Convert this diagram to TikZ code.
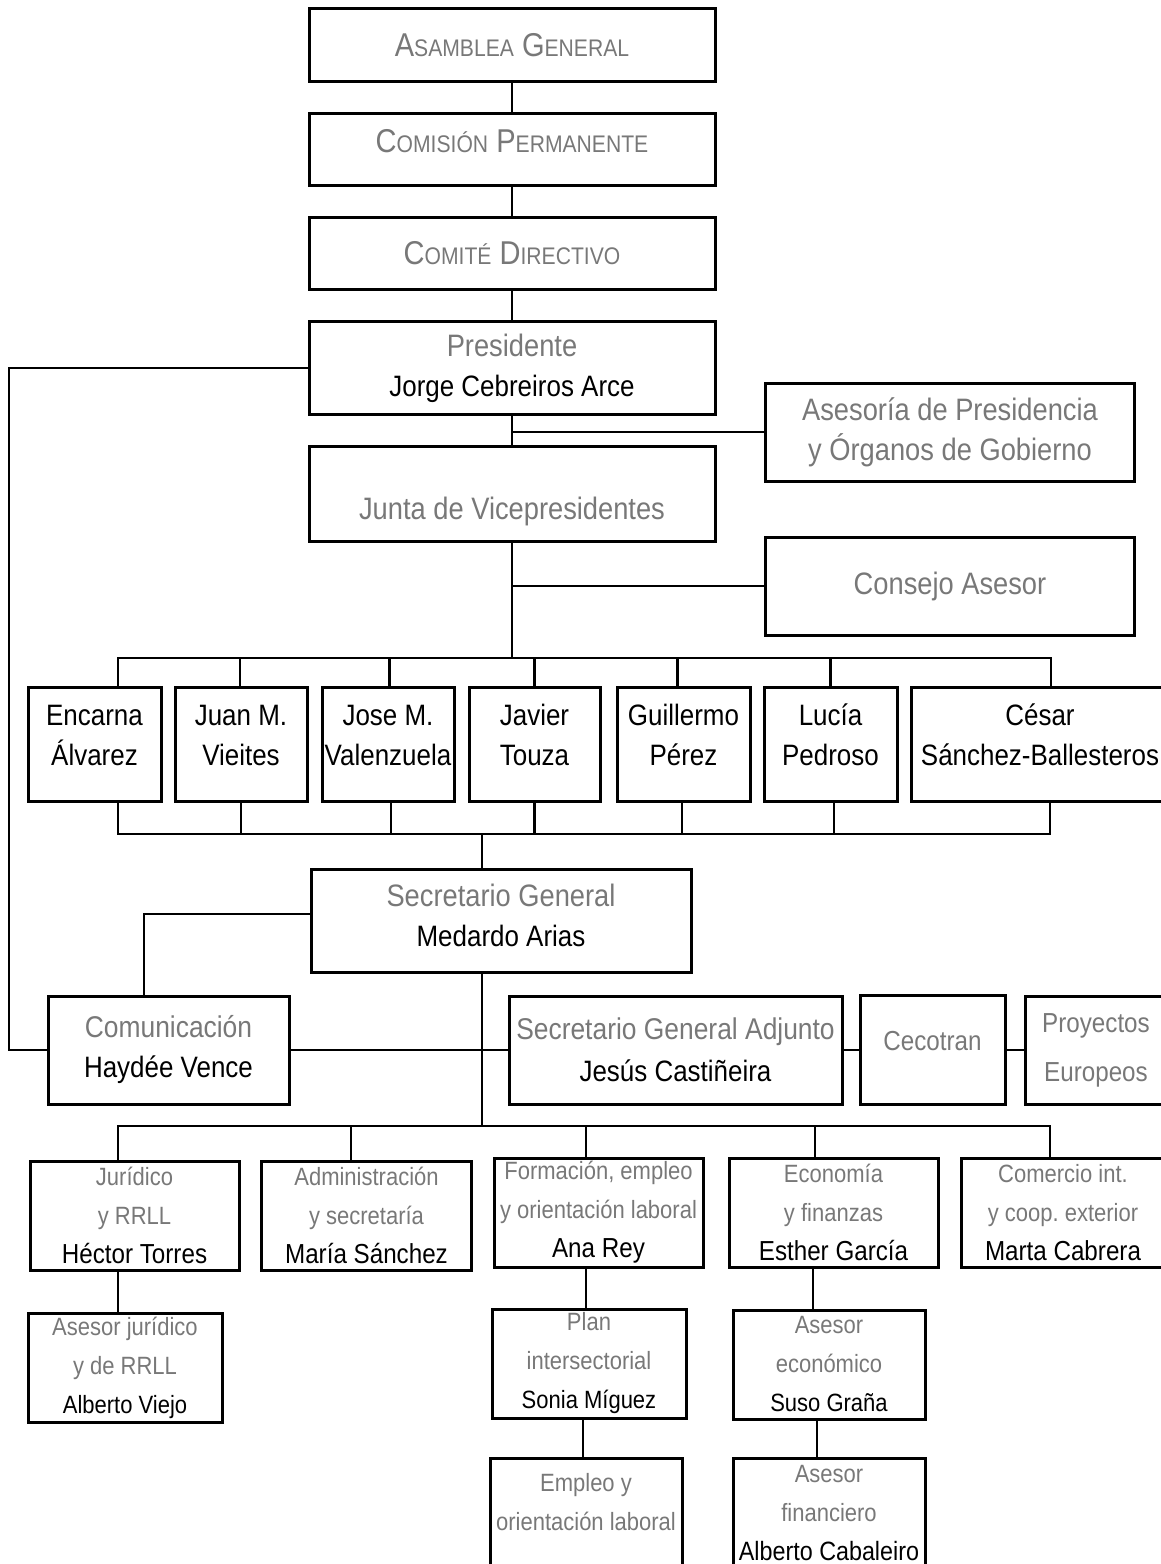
\documentclass[tikz,border=0pt]{standalone}
\usepackage{fontspec}
\setmainfont{Liberation Sans}[FakeStretch=0.88]
\usepackage{tikz}

\definecolor{titlegray}{RGB}{120,120,120}
\newcommand{\tit}[1]{{\color{titlegray}#1}}
\newcommand{\lowcaps}[1]{{\fontsize{24}{30}\selectfont #1}}
\newcommand{\fntcaps}{\fontsize{33}{40}\selectfont}
\newcommand{\fnttitle}{\fontsize{31}{40}\selectfont}
\newcommand{\fntname}{\fontsize{29.5}{40}\selectfont}
\newcommand{\fntmid}{\fontsize{27.5}{49}\selectfont}
\newcommand{\fntsmall}{\fontsize{25}{39}\selectfont}
\newcommand{\fntsmallname}{\fontsize{27.5}{39}\selectfont}

\begin{document}
\begin{tikzpicture}[x=1pt, y=-1pt,
  box/.style={draw, line width=3pt, align=center, inner sep=0pt, font=\fnttitle},
  vp/.style={box, minimum height=114, font=\fntname, text height=62pt, text depth=20pt},
  dept/.style={box, minimum height=109, font=\fntsmall},
  link/.style={line width=2.6pt}]

\useasboundingbox (0,0) rectangle (1161,1564);

% organos de gobierno
\node[box, minimum width=406, minimum height=73, font=\fntcaps] (asam) at (512,45) {\tit{A\lowcaps{SAMBLEA} G\lowcaps{ENERAL}}};
\node[box, minimum width=406, minimum height=72, font=\fntcaps, text height=12pt, text depth=6pt] (comi) at (512,149) {\tit{C\lowcaps{OMISIÓN} P\lowcaps{ERMANENTE}}};
\node[box, minimum width=406, minimum height=72, font=\fntcaps] (cdir) at (512,253) {\tit{C\lowcaps{OMITÉ} D\lowcaps{IRECTIVO}}};
\node[box, minimum width=406, minimum height=93] (pres) at (512,368) {\tit{Presidente}\\{\fntname Jorge Cebreiros Arce}};
\node[box, minimum width=369, minimum height=98] (ases) at (950,432) {\tit{Asesoría de Presidencia}\\\tit{y Órganos de Gobierno}};
\node[box, minimum width=406, minimum height=95, text height=50pt, text depth=0pt] (junta) at (512,494) {\tit{Junta de Vicepresidentes}};
\node[box, minimum width=369, minimum height=98] (cons) at (950,586) {\tit{Consejo Asesor}};

% vicepresidentes
\node[vp, minimum width=133] (enc) at (94.5,744) {Encarna\\Álvarez};
\node[vp, minimum width=132] (juan) at (241,744) {Juan M.\\Vieites};
\node[vp, minimum width=132] (jose) at (388,744) {Jose M.\\Valenzuela};
\node[vp, minimum width=131] (javi) at (534.5,744) {Javier\\Touza};
\node[vp, minimum width=133] (guil) at (683.5,744) {Guillermo\\Pérez};
\node[vp, minimum width=133] (luci) at (830.5,744) {Lucía\\Pedroso};
\node[vp, minimum width=258] (cesa) at (1040,744) {César\\Sánchez-Ballesteros};

% secretaria
\node[box, minimum width=380, minimum height=103, text height=62pt, text depth=11pt] (sec) at (501,920.5) {\tit{Secretario General}\\{\fntname Medardo Arias}};
\node[box, minimum width=241, minimum height=108, font=\fontsize{30}{40}\selectfont] (com) at (168.5,1050) {\tit{Comunicación}\\{\fntname Haydée Vence}};
\node[box, minimum width=333, minimum height=108, font=\fontsize{30}{42}\selectfont] (sga) at (675.5,1050) {\tit{Secretario General Adjunto}\\{\fntname Jesús Castiñeira}};
\node[box, minimum width=145, minimum height=109, font=\fntmid, text height=15pt, text depth=15pt] (ceco) at (932.5,1050) {\tit{Cecotran}};
\node[box, minimum width=142, minimum height=108, font=\fntmid] (proy) at (1096,1050) {\tit{Proyectos}\\\tit{Europeos}};

% departamentos
\node[dept, minimum width=209] (jur) at (134.5,1215.5) {\tit{Jurídico}\\\tit{y RRLL}\\{\fntsmallname Héctor Torres}};
\node[dept, minimum width=210] (adm) at (366.5,1215.5) {\tit{Administración}\\\tit{y secretaría}\\{\fntsmallname María Sánchez}};
\node[dept, minimum width=209] (form) at (598.5,1212.5) {\tit{Formación, empleo}\\\tit{y orientación laboral}\\{\fntsmallname Ana Rey}};
\node[dept, minimum width=209] (eco) at (833.5,1212.5) {\tit{Economía}\\\tit{y finanzas}\\{\fntsmallname Esther García}};
\node[dept, minimum width=204] (come) at (1063,1212.5) {\tit{Comercio int.}\\\tit{y coop.\ exterior}\\{\fntsmallname Marta Cabrera}};

\node[dept, minimum width=194] (asj) at (125,1367.5) {\tit{Asesor jurídico}\\\tit{y de RRLL}\\Alberto Viejo};
\node[dept, minimum width=194] (plan) at (589,1363.5) {\tit{Plan}\\\tit{intersectorial}\\Sonia Míguez};
\node[dept, minimum width=192] (asec) at (829,1364.5) {\tit{Asesor}\\\tit{económico}\\Suso Graña};
\node[dept, minimum width=192, minimum height=110, text height=50pt, text depth=16pt] (empl) at (586,1513) {\tit{Empleo y}\\\tit{orientación laboral}};
\node[dept, minimum width=192, minimum height=110] (asfn) at (829,1513) {\tit{Asesor}\\\tit{financiero}\\{\fontsize{26.5}{39}\selectfont Alberto Cabaleiro}};

% conexiones
\coordinate (vtop) at (512,658);
\coordinate (vbot) at (482,834);
\coordinate (dbus) at (482,1126);
\coordinate (lft) at (9,700);
\coordinate (jur-s) at ([xshift=-16.5]jur.south);
\coordinate (form-s) at ([xshift=-12.5]form.south);
\coordinate (plan-s) at ([xshift=-6]plan.south);
\coordinate (eco-s) at ([xshift=-20.5]eco.south);
\coordinate (asec-s) at ([xshift=-12]asec.south);

\draw[link] (asam) -- (comi);
\draw[link] (comi) -- (cdir);
\draw[link] (cdir) -- (pres);
\draw[link] (pres) -- (junta);
\draw[link] (pres.south |- ases.west) -- (ases.west);
\draw[link] (junta) -- (vtop);
\draw[link] (junta.south |- cons.west) -- (cons.west);

\draw[link] ([xshift=23.5]enc.north) |- (vtop);
\draw[link] ([xshift=-1]juan.north) |- (vtop);
\draw[link] ([xshift=1.5]jose.north) |- (vtop);
\draw[link] (javi.north) |- (vtop);
\draw[link] ([xshift=-6]guil.north) |- (vtop);
\draw[link] (luci.north) |- (vtop);
\draw[link] ([xshift=11]cesa.north) |- (vtop);

\draw[link] ([xshift=23.5]enc.south) |- (vbot);
\draw[link] (juan.south) |- (vbot);
\draw[link] ([xshift=3]jose.south) |- (vbot);
\draw[link] (javi.south) |- (vbot);
\draw[link] ([xshift=-1.5]guil.south) |- (vbot);
\draw[link] ([xshift=3.5]luci.south) |- (vbot);
\draw[link] ([xshift=10]cesa.south) |- (vbot);
\draw[link] (vbot) -- (vbot |- sec.north);

\draw[link] (pres.west) -| (lft) |- (com.west);
\draw[link] ([yshift=6.5]sec.west) -| ([xshift=-24.5]com.north);
\draw[link] (com.east) -- (sga.west);
\draw[link] (sga) -- (ceco);
\draw[link] (ceco) -- (proy);
\draw[link] (sec.south -| dbus) -- (dbus);

\draw[link] ([xshift=-16.5]jur.north) |- (dbus);
\draw[link] ([xshift=-15.5]adm.north) |- (dbus);
\draw[link] ([xshift=-12.5]form.north) |- (dbus);
\draw[link] ([xshift=-18.5]eco.north) |- (dbus);
\draw[link] ([xshift=-13]come.north) |- (dbus);

\draw[link] (jur-s) -- (jur-s |- asj.north);
\draw[link] (form-s) -- (form-s |- plan.north);
\draw[link] (plan-s) -- (plan-s |- empl.north);
\draw[link] (eco-s) -- (eco-s |- asec.north);
\draw[link] (asec-s) -- (asec-s |- asfn.north);
\end{tikzpicture}
\end{document}
